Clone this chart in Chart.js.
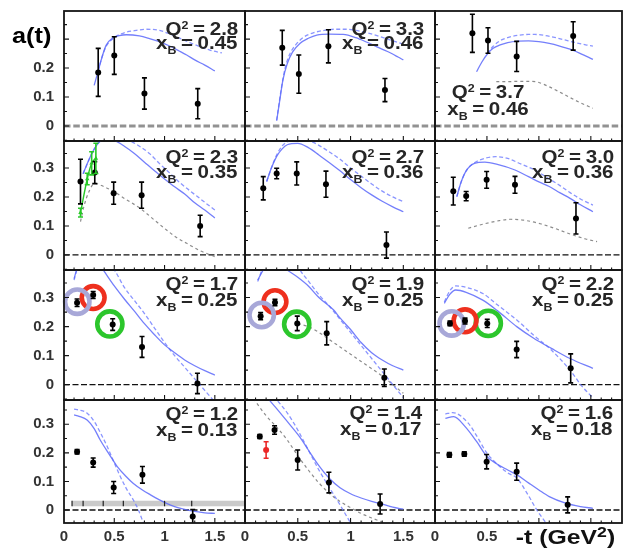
<!DOCTYPE html>
<html>
<head>
<meta charset="utf-8">
<title>a(t) vs -t</title>
<script src="https://cdn.jsdelivr.net/npm/chart.js@4.4.1/dist/chart.umd.min.js"></script>
<style>
  html, body { margin: 0; padding: 0; background: #fff; }
  #wrap { position: relative; width: 624px; height: 550px; overflow: hidden; background: #fff; }
  #wrap canvas { position: absolute; left: 0; top: 0; }
  .lbl { position: absolute; font-family: "Liberation Sans", Arial, sans-serif; font-weight: bold;
         white-space: nowrap; color: #262626; z-index: 5; }
  .lbl sup, .lbl sub { position: relative; vertical-align: baseline; line-height: 0; }
  .note { word-spacing: -1px; }
</style>
</head>
<body>
<div id="wrap"></div>
<script>
// ---------- kinematic bins (row by row) ----------
const Q2 = ['2.8', '3.3', '3.7', '2.3', '2.7', '3.0', '1.7', '1.9', '2.2', '1.2', '1.4', '1.6'];
const XB = ['0.45', '0.46', '0.46', '0.35', '0.36', '0.36', '0.25', '0.25', '0.25', '0.13', '0.17', '0.18'];

// ---------- tick labels ----------
const xTickVals = [[0, 0.5, 1, 1.5], [0, 0.5, 1, 1.5], [0, 0.5]];
const yTickVals = [[0, 0.1, 0.2], [0, 0.1, 0.2, 0.3], [0, 0.1, 0.2, 0.3], [0, 0.1, 0.2, 0.3]];

// ---------- measured asymmetries: -t, a(t), error ----------
const t1 = [0.34, 0.50, 0.80, 1.33];
const a1 = [0.185, 0.243, 0.112, 0.077];
const e1 = [0.083, 0.065, 0.054, 0.052];
const t2 = [0.353, 0.51, 0.79, 1.326];
const a2 = [0.270, 0.179, 0.275, 0.124];
const e2 = [0.060, 0.066, 0.057, 0.040];
const t3 = [0.36, 0.51, 0.786, 1.33];
const a3 = [0.320, 0.295, 0.240, 0.311];
const e3 = [0.066, 0.044, 0.052, 0.049];
const t4 = [0.164, 0.306, 0.494, 0.772, 1.354];
const a4 = [0.253, 0.284, 0.213, 0.206, 0.100];
const e4 = [0.077, 0.038, 0.038, 0.045, 0.037];
const t5 = [0.173, 0.30, 0.49, 0.767, 1.34];
const a5 = [0.230, 0.281, 0.281, 0.244, 0.034];
const e5 = [0.040, 0.018, 0.040, 0.045, 0.045];
const t6 = [0.176, 0.30, 0.497, 0.77, 1.357];
const a6 = [0.220, 0.203, 0.259, 0.242, 0.126];
const e6 = [0.048, 0.016, 0.029, 0.029, 0.054];
const t7 = [0.13, 0.29, 0.484, 0.776, 1.327];
const a7 = [0.282, 0.309, 0.207, 0.130, 0.004];
const e7 = [0.013, 0.012, 0.020, 0.036, 0.035];
const t8 = [0.148, 0.284, 0.495, 0.774, 1.32];
const a8 = [0.236, 0.283, 0.211, 0.177, 0.024];
const e8 = [0.012, 0.011, 0.025, 0.040, 0.030];
const t9 = [0.144, 0.289, 0.503, 0.786, 1.306];
const a9 = [0.211, 0.219, 0.211, 0.121, 0.056];
const e9 = [0.008, 0.010, 0.014, 0.028, 0.050];
const t10 = [0.13, 0.29, 0.494, 0.78, 1.28];
const a10 = [0.204, 0.166, 0.079, 0.123, -0.023];
const e10 = [0.008, 0.016, 0.021, 0.029, 0.025];
const t11 = [0.14, 0.28, 0.499, 0.795, 1.28];
const a11 = [0.257, 0.280, 0.175, 0.096, 0.021];
const e11 = [0.007, 0.015, 0.035, 0.036, 0.035];
const t12 = [0.138, 0.282, 0.497, 0.786, 1.277];
const a12 = [0.193, 0.196, 0.169, 0.134, 0.018];
const e12 = [0.008, 0.008, 0.025, 0.030, 0.028];

// other measurements
const tGreen4 = [0.164, 0.231, 0.275, 0.317];
const aGreen4 = [0.146, 0.262, 0.316, 0.333];
const eGreen4 = [0.015, 0.020, 0.040, 0.052];
const tRed11 = [0.20];
const aRed11 = [0.21];
const eRed11 = [0.029];

// systematic band (Q2 = 1.2 bin)
const bandLo = 0.013, bandHi = 0.032;
const bandSpan = [0.08, 1.8];
const bandTicks = [0.08, 0.19, 0.39, 0.59, 1.0, 1.27];

// highlighted points (rows Q2 = 1.7, 1.9, 2.2)
const ringLavender = [[0.132, 0.286], [0.158, 0.240], [0.161, 0.211]];
const ringRed = [[0.290, 0.300], [0.284, 0.286], [0.289, 0.220]];
const ringGreen = [[0.456, 0.209], [0.490, 0.208], [0.513, 0.211]];

// ---------- model curves: [-t, a] ----------
const solid1 = [[0.30,0.14],[0.34,0.19],[0.38,0.24],[0.42,0.279],[0.49,0.305],[0.55,0.312],[0.62,0.315],[0.75,0.311],[0.85,0.302],[0.95,0.291],[1.05,0.276],[1.15,0.258],[1.22,0.245],[1.30,0.228],[1.40,0.21],[1.50,0.19]];
const dash1 = [[0.34,0.19],[0.38,0.24],[0.42,0.275],[0.50,0.305],[0.60,0.322],[0.70,0.329],[0.82,0.334],[0.95,0.330],[1.05,0.318],[1.15,0.303],[1.25,0.288],[1.35,0.274],[1.45,0.262],[1.57,0.252]];
const solid2 = [[0.30,0.018],[0.33,0.09],[0.36,0.16],[0.40,0.215],[0.45,0.255],[0.52,0.285],[0.60,0.303],[0.68,0.314],[0.80,0.317],[0.93,0.316],[1.05,0.305],[1.15,0.29],[1.25,0.273],[1.35,0.257],[1.45,0.238],[1.50,0.228]];
const dash2 = [[0.30,0.02],[0.34,0.12],[0.38,0.20],[0.42,0.245],[0.48,0.28],[0.55,0.305],[0.65,0.322],[0.75,0.330],[0.85,0.334],[0.95,0.334],[1.05,0.33],[1.15,0.322],[1.25,0.312],[1.35,0.30],[1.45,0.288],[1.52,0.28]];
const solid3 = [[0.40,0.187],[0.45,0.22],[0.51,0.251],[0.56,0.268],[0.62,0.279],[0.70,0.288],[0.80,0.293],[0.90,0.294],[1.00,0.291],[1.10,0.285],[1.20,0.276],[1.30,0.265],[1.40,0.25],[1.52,0.23]];
const dash3 = [[0.50,0.25],[0.56,0.275],[0.62,0.293],[0.70,0.305],[0.80,0.313],[0.90,0.316],[0.96,0.316],[1.05,0.313],[1.15,0.306],[1.25,0.297],[1.35,0.288],[1.45,0.28],[1.52,0.276]];
const gray3 = [[0.59,0.153],[0.70,0.153],[0.80,0.154],[0.90,0.154],[0.98,0.152],[1.10,0.135],[1.20,0.117],[1.30,0.098],[1.40,0.08],[1.52,0.061]];
const solid4 = [[0.19,0.28],[0.25,0.33],[0.30,0.365],[0.36,0.392],[0.42,0.40],[0.50,0.395],[0.60,0.375],[0.70,0.35],[0.80,0.32],[0.90,0.29],[1.00,0.262],[1.10,0.235],[1.20,0.21],[1.30,0.18],[1.40,0.155],[1.50,0.127]];
const dash4 = [[0.19,0.28],[0.25,0.33],[0.30,0.365],[0.36,0.395],[0.45,0.41],[0.55,0.41],[0.65,0.395],[0.75,0.375],[0.85,0.35],[0.95,0.315],[1.05,0.283],[1.15,0.25],[1.25,0.222],[1.35,0.195],[1.45,0.168],[1.50,0.155]];
const gray4 = [[0.164,0.115],[0.20,0.17],[0.25,0.22],[0.306,0.247],[0.40,0.235],[0.49,0.22],[0.60,0.195],[0.76,0.16],[0.90,0.12],[1.02,0.086],[1.12,0.06],[1.22,0.04],[1.35,0.015],[1.50,-0.006]];
const solid5 = [[0.205,0.253],[0.25,0.30],[0.30,0.34],[0.35,0.365],[0.40,0.38],[0.50,0.385],[0.60,0.37],[0.70,0.345],[0.80,0.318],[0.90,0.29],[1.00,0.26],[1.10,0.232],[1.20,0.207],[1.30,0.185],[1.40,0.166],[1.50,0.149]];
const dash5 = [[0.205,0.253],[0.25,0.30],[0.30,0.345],[0.35,0.375],[0.40,0.39],[0.50,0.40],[0.60,0.395],[0.70,0.378],[0.80,0.355],[0.90,0.33],[1.00,0.30],[1.10,0.272],[1.20,0.245],[1.30,0.22],[1.40,0.20],[1.50,0.184]];
const solid6 = [[0.21,0.201],[0.25,0.25],[0.30,0.29],[0.38,0.316],[0.48,0.32],[0.60,0.312],[0.77,0.293],[0.90,0.27],[1.00,0.252],[1.10,0.236],[1.20,0.215],[1.30,0.195],[1.40,0.173],[1.52,0.149]];
const dash6 = [[0.21,0.201],[0.25,0.25],[0.30,0.29],[0.38,0.318],[0.48,0.333],[0.58,0.339],[0.70,0.333],[0.80,0.318],[0.96,0.293],[1.10,0.262],[1.20,0.24],[1.30,0.215],[1.40,0.193],[1.52,0.172]];
const gray6 = [[0.32,0.092],[0.45,0.105],[0.60,0.117],[0.73,0.123],[0.85,0.12],[1.00,0.109],[1.15,0.092],[1.30,0.072],[1.45,0.055],[1.56,0.046]];
const solid7 = [[0.10,0.365],[0.13,0.40],[0.20,0.45],[0.30,0.44],[0.40,0.39],[0.50,0.34],[0.60,0.295],[0.70,0.253],[0.80,0.21],[0.90,0.172],[1.00,0.137],[1.10,0.11],[1.20,0.085],[1.30,0.065],[1.40,0.048],[1.50,0.033]];
const dash7 = [[0.10,0.36],[0.15,0.42],[0.25,0.46],[0.40,0.44],[0.51,0.39],[0.60,0.335],[0.70,0.29],[0.80,0.245],[0.90,0.195],[1.00,0.145],[1.10,0.10],[1.20,0.06],[1.30,0.02],[1.40,-0.02],[1.50,-0.06]];
const solid8 = [[0.12,0.36],[0.18,0.40],[0.25,0.44],[0.38,0.40],[0.50,0.37],[0.60,0.34],[0.70,0.30],[0.84,0.257],[0.90,0.23],[1.00,0.19],[1.10,0.145],[1.20,0.11],[1.30,0.085],[1.40,0.065],[1.50,0.05]];
const dash8 = [[0.12,0.355],[0.20,0.42],[0.45,0.42],[0.55,0.38],[0.70,0.31],[0.80,0.27],[0.90,0.225],[1.00,0.18],[1.10,0.135],[1.20,0.09],[1.30,0.045],[1.40,0.0],[1.50,-0.045]];
const gray8 = [[0.50,0.21],[0.60,0.20],[0.70,0.18],[0.80,0.155],[0.90,0.13],[1.00,0.105],[1.10,0.08],[1.20,0.055],[1.30,0.03],[1.40,0.0],[1.50,-0.03]];
const solid9 = [[0.09,0.28],[0.14,0.31],[0.20,0.326],[0.30,0.318],[0.46,0.291],[0.60,0.255],[0.79,0.199],[0.95,0.16],[1.12,0.125],[1.30,0.09],[1.52,0.056]];
const dash9 = [[0.09,0.285],[0.14,0.322],[0.20,0.34],[0.30,0.335],[0.46,0.314],[0.60,0.275],[0.79,0.222],[0.95,0.17],[1.12,0.119],[1.30,0.05],[1.42,-0.008],[1.52,-0.045]];
const solid10 = [[0.10,0.333],[0.15,0.328],[0.23,0.315],[0.30,0.285],[0.36,0.245],[0.45,0.195],[0.53,0.152],[0.61,0.12],[0.69,0.093],[0.78,0.07],[0.86,0.053],[0.94,0.037],[1.02,0.023],[1.10,0.012],[1.19,0.003],[1.30,-0.005],[1.40,-0.01],[1.50,-0.012]];
const dash10 = [[0.10,0.353],[0.15,0.35],[0.23,0.339],[0.30,0.31],[0.37,0.265],[0.43,0.222],[0.50,0.165],[0.56,0.117],[0.62,0.075],[0.69,0.035],[0.74,0.0],[0.79,-0.046]];
const solid11 = [[0.15,0.43],[0.22,0.39],[0.30,0.355],[0.40,0.31],[0.52,0.255],[0.60,0.21],[0.70,0.155],[0.80,0.11],[0.90,0.078],[1.00,0.057],[1.10,0.042],[1.20,0.03],[1.28,0.023],[1.40,0.01],[1.50,0.003]];
const dash11 = [[0.15,0.45],[0.29,0.39],[0.40,0.34],[0.50,0.28],[0.60,0.21],[0.70,0.14],[0.80,0.078],[0.90,0.018],[1.00,-0.045],[1.06,-0.08]];
const gray11 = [[0.08,0.39],[0.20,0.33],[0.30,0.29],[0.40,0.245],[0.50,0.19],[0.60,0.14],[0.70,0.095],[0.80,0.058],[0.90,0.03],[1.00,0.008],[1.10,-0.012],[1.20,-0.028],[1.30,-0.042]];
const solid12 = [[0.10,0.321],[0.18,0.327],[0.29,0.292],[0.40,0.24],[0.50,0.187],[0.60,0.16],[0.70,0.14],[0.79,0.123],[0.90,0.095],[1.00,0.07],[1.10,0.047],[1.25,0.025],[1.40,0.012],[1.52,0.006]];
const dash12 = [[0.10,0.336],[0.17,0.341],[0.32,0.304],[0.40,0.26],[0.50,0.199],[0.60,0.16],[0.70,0.13],[0.79,0.111],[0.90,0.05],[0.98,0.0],[1.07,-0.046]];

// ---------- layout ----------
const COLS = [64, 245, 435, 622];
const ROWS = [11, 141, 270, 400, 523];
const YMIN = [-0.052, -0.052, -0.053, -0.0455];
const YMAX = [0.397, 0.393, 0.395, 0.385];
const W = 624, H = 550;

const BLUE = 'rgba(92,104,250,0.85)';
const BLUE_D = 'rgba(118,130,255,0.85)';
const GRAY_D = 'rgba(120,120,120,0.85)';
const GREEN = 'rgb(40,200,40)';

function xy(t, a) { return t.map((v, i) => ({ x: v, y: a[i] })); }
function xyPairs(p) { return p.map(([x, y]) => ({ x, y })); }

function curveSet(p, kind) {
  const s = {
    solid: { c: BLUE, w: 1.3, d: [], o: 5 },
    dash: { c: BLUE_D, w: 1.3, d: [4, 2.5], o: 6 },
    gray: { c: GRAY_D, w: 1.2, d: [3, 3], o: 7 },
    green: { c: GREEN, w: 1.4, d: [], o: 4 }
  }[kind];
  return { data: xyPairs(p), showLine: true, pointRadius: 0, borderColor: s.c, backgroundColor: s.c,
           borderWidth: s.w, borderDash: s.d, cubicInterpolationMode: 'monotone', fill: false, order: s.o };
}
function pointSet(t, a, e, color, r, style, order) {
  return { data: xy(t, a), errors: e, errColor: color, showLine: false, pointRadius: r,
           pointStyle: style || 'circle', backgroundColor: color, borderColor: color, borderWidth: 0,
           order: order || 0 };
}
function ringSet(p, color, r, order) {
  return { data: xyPairs([p]), showLine: false, pointRadius: r, borderWidth: 4.6, borderColor: color,
           backgroundColor: 'rgba(0,0,0,0)', clip: false, order };
}
function rings(k) {
  return [ringSet(ringLavender[k], 'rgb(168,168,216)', 12.2, 1),
          ringSet(ringRed[k], 'rgb(238,48,30)', 11.4, 2),
          ringSet(ringGreen[k], 'rgb(44,198,44)', 12.6, 3)];
}
const bandSet = {
  data: [{ x: bandSpan[0], y: bandHi }, { x: bandSpan[1], y: bandHi }], showLine: true, pointRadius: 0,
  borderWidth: 0, borderColor: 'rgba(0,0,0,0)', backgroundColor: 'rgba(196,196,196,0.9)',
  fill: { value: bandLo }, order: 10
};

const panels = [
  [pointSet(t1, a1, e1, '#000', 3), curveSet(solid1, 'solid'), curveSet(dash1, 'dash')],
  [pointSet(t2, a2, e2, '#000', 3), curveSet(solid2, 'solid'), curveSet(dash2, 'dash')],
  [pointSet(t3, a3, e3, '#000', 3), curveSet(solid3, 'solid'), curveSet(dash3, 'dash'), curveSet(gray3, 'gray')],
  [pointSet(t4, a4, e4, '#000', 3), pointSet(tGreen4, aGreen4, eGreen4, GREEN, 2.6, 'triangle', 1),
   curveSet(tGreen4.map((v, i) => [v, aGreen4[i]]), 'green'),
   curveSet(solid4, 'solid'), curveSet(dash4, 'dash'), curveSet(gray4, 'gray')],
  [pointSet(t5, a5, e5, '#000', 3), curveSet(solid5, 'solid'), curveSet(dash5, 'dash')],
  [pointSet(t6, a6, e6, '#000', 3), curveSet(solid6, 'solid'), curveSet(dash6, 'dash'), curveSet(gray6, 'gray')],
  [pointSet(t7, a7, e7, '#000', 3), ...rings(0), curveSet(solid7, 'solid'), curveSet(dash7, 'dash')],
  [pointSet(t8, a8, e8, '#000', 3), ...rings(1), curveSet(solid8, 'solid'), curveSet(dash8, 'dash'), curveSet(gray8, 'gray')],
  [pointSet(t9, a9, e9, '#000', 3), ...rings(2), curveSet(solid9, 'solid'), curveSet(dash9, 'dash')],
  [pointSet(t10, a10, e10, '#000', 3), bandSet, curveSet(solid10, 'solid'), curveSet(dash10, 'dash')],
  [pointSet(t11, a11, e11, '#000', 3), pointSet(tRed11, aRed11, eRed11, 'rgb(235,40,40)', 3, 'circle', 1),
   curveSet(solid11, 'solid'), curveSet(dash11, 'dash'), curveSet(gray11, 'gray')],
  [pointSet(t12, a12, e12, '#000', 3), curveSet(solid12, 'solid'), curveSet(dash12, 'dash')]
];

// frame, inward ticks, zero line, error bars
const panelDeco = {
  id: 'panelDeco',
  beforeDatasetsDraw(chart, _args, o) {
    const { ctx, chartArea: ca } = chart;
    const y0 = chart.scales.y.getPixelForValue(0);
    ctx.save();
    ctx.beginPath(); ctx.rect(ca.left, ca.top, ca.width, ca.height); ctx.clip();
    ctx.setLineDash(o.zeroDash); ctx.lineWidth = o.zeroWidth; ctx.strokeStyle = o.zeroColor;
    ctx.beginPath(); ctx.moveTo(ca.left, y0); ctx.lineTo(ca.right, y0); ctx.stroke();
    ctx.restore();
  },
  afterDatasetsDraw(chart, _args, o) {
    const { ctx, chartArea: ca } = chart;
    const x = chart.scales.x, y = chart.scales.y;
    ctx.save();
    ctx.beginPath(); ctx.rect(ca.left, ca.top, ca.width, ca.height); ctx.clip();
    ctx.setLineDash([]);
    if (o.band) {
      ctx.strokeStyle = '#222'; ctx.lineWidth = 1.2;
      const yl = y.getPixelForValue(bandLo), yh = y.getPixelForValue(bandHi);
      bandTicks.forEach(v => {
        const px = x.getPixelForValue(v);
        ctx.beginPath(); ctx.moveTo(px, yl); ctx.lineTo(px, yh); ctx.stroke();
      });
    }
    chart.data.datasets.forEach(ds => {
      if (!ds.errors) return;
      ctx.strokeStyle = ds.errColor; ctx.lineWidth = 1.6;
      ds.data.forEach((p, j) => {
        const px = x.getPixelForValue(p.x);
        const hi = y.getPixelForValue(p.y + ds.errors[j]);
        const lo = y.getPixelForValue(p.y - ds.errors[j]);
        ctx.beginPath();
        ctx.moveTo(px, hi); ctx.lineTo(px, lo);
        ctx.moveTo(px - 2.5, hi); ctx.lineTo(px + 2.5, hi);
        ctx.moveTo(px - 2.5, lo); ctx.lineTo(px + 2.5, lo);
        ctx.stroke();
      });
    });
    ctx.restore();
  },
  afterDraw(chart) {
    const { ctx, chartArea: ca } = chart;
    const x = chart.scales.x, y = chart.scales.y;
    ctx.save();
    ctx.setLineDash([]);
    ctx.strokeStyle = '#151515';
    ctx.lineWidth = 1.1;
    ctx.beginPath();
    for (let k = Math.ceil(y.min / 0.05 - 1e-9); k * 0.05 <= y.max + 1e-9; k++) {
      const py = y.getPixelForValue(k * 0.05);
      const len = (k % 2 === 0) ? 5 : 3;
      ctx.moveTo(ca.left, py); ctx.lineTo(ca.left + len, py);
    }
    for (let k = 1; k * 0.1 < x.max - 1e-9; k++) {
      const px = x.getPixelForValue(k * 0.1);
      const len = (k % 5 === 0) ? 5 : 2.5;
      ctx.moveTo(px, ca.bottom); ctx.lineTo(px, ca.bottom - len);
    }
    ctx.stroke();
    ctx.lineWidth = 1.8;
    ctx.strokeRect(ca.left, ca.top, ca.width, ca.height);
    ctx.restore();
  }
};

const tickFont = { family: 'Liberation Sans', size: 15, weight: 'bold' };
const wrap = document.getElementById('wrap');

panels.forEach((sets, k) => {
  const r = Math.floor(k / 3), c = k % 3;
  const leftAxis = c === 0, bottomAxis = r === 3;
  const cv = document.createElement('canvas');
  cv.width = W; cv.height = H;
  cv.style.width = W + 'px'; cv.style.height = H + 'px';
  wrap.appendChild(cv);
  new Chart(cv, {
    type: 'scatter',
    data: { datasets: sets },
    options: {
      responsive: false, animation: false, events: [],
      layout: {
        autoPadding: false,
        padding: { left: leftAxis ? 0 : COLS[c], right: W - COLS[c + 1],
                   top: ROWS[r], bottom: bottomAxis ? 0 : H - ROWS[r + 1] }
      },
      plugins: {
        legend: { display: false }, tooltip: { enabled: false },
        panelDeco: r === 0
          ? { zeroColor: 'rgba(140,140,140,0.95)', zeroWidth: 3, zeroDash: [6.5, 2.8], band: k === 9 }
          : { zeroColor: '#111', zeroWidth: 1.3, zeroDash: [6, 2.5], band: k === 9 }
      },
      scales: {
        x: {
          type: 'linear', min: 0, max: 1.8, position: 'bottom', display: bottomAxis,
          grid: { display: false, drawTicks: false }, border: { display: false },
          ticks: { font: tickFont, color: '#333', padding: 5, maxRotation: 0, autoSkip: false,
                   callback: v => String(v) },
          afterBuildTicks: s => { s.ticks = xTickVals[c].map(v => ({ value: v })); },
          afterFit: s => { s.height = bottomAxis ? H - ROWS[4] : 0; s.paddingLeft = 0; s.paddingRight = 0; }
        },
        y: {
          type: 'linear', min: YMIN[r], max: YMAX[r], position: 'left', display: leftAxis,
          grid: { display: false, drawTicks: false }, border: { display: false },
          ticks: { font: tickFont, color: '#333', padding: 10, autoSkip: false,
                   callback: v => String(v) },
          afterBuildTicks: s => { s.ticks = yTickVals[r].map(v => ({ value: v })); },
          afterFit: s => { s.width = leftAxis ? COLS[0] : 0; s.paddingTop = 0; s.paddingBottom = 0; }
        }
      }
    },
    plugins: [panelDeco]
  });
});

// ---------- text ----------
function textLine(html, base, size, pos, anchor, sx) {
  const d = document.createElement('div');
  d.className = 'lbl';
  d.innerHTML = html;
  d.style.fontSize = size + 'px';
  d.style.lineHeight = size + 'px';
  d.style.top = (base - 0.8465 * size) + 'px';
  if (anchor === 'r') {
    d.style.right = (W - pos) + 'px';
    d.style.transformOrigin = '100% 50%';
    d.style.transform = 'scaleX(' + sx + ')';
  } else if (anchor === 'c') {
    d.style.left = pos + 'px';
    d.style.transformOrigin = '50% 50%';
    d.style.transform = 'translateX(-50%) scaleX(' + sx + ')';
  } else {
    d.style.left = pos + 'px';
    d.style.transformOrigin = '0 50%';
    d.style.transform = 'scaleX(' + sx + ')';
  }
  wrap.appendChild(d);
  return d;
}

const notePos = [
  [238, 35, 'r', 14.5], [424, 35, 'r', 14.5], [488, 98, 'c', 17],
  [238, 163, 'r', 15.5], [424, 163, 'r', 15.5], [614, 163, 'r', 15.5],
  [238, 290.5, 'r', 16], [424, 290.5, 'r', 16], [614, 290.5, 'r', 16],
  [238, 420, 'r', 16], [422, 419.5, 'r', 16], [613, 419.5, 'r', 16]
];
notePos.forEach(([px, base, anchor, gap], k) => {
  textLine('Q<sup style="font-size:11.5px;top:-6px">2</sup> = ' + Q2[k], base, 19, px, anchor, 1.08)
    .classList.add('note');
  textLine('x<sub style="font-size:11.5px;top:5px">B</sub> = ' + XB[k], base + gap, 19, px, anchor, 1.08)
    .classList.add('note');
});

const yTitle = textLine('a(t)', 43.5, 22, 12, 'l', 1.15);
yTitle.style.color = '#000';
const xTitle = textLine('-t (GeV<sup style="font-size:15px;top:-7px">2</sup>)', 543.5, 21, 615, 'r', 1.18);
xTitle.style.color = '#111';
</script>
</body>
</html>
